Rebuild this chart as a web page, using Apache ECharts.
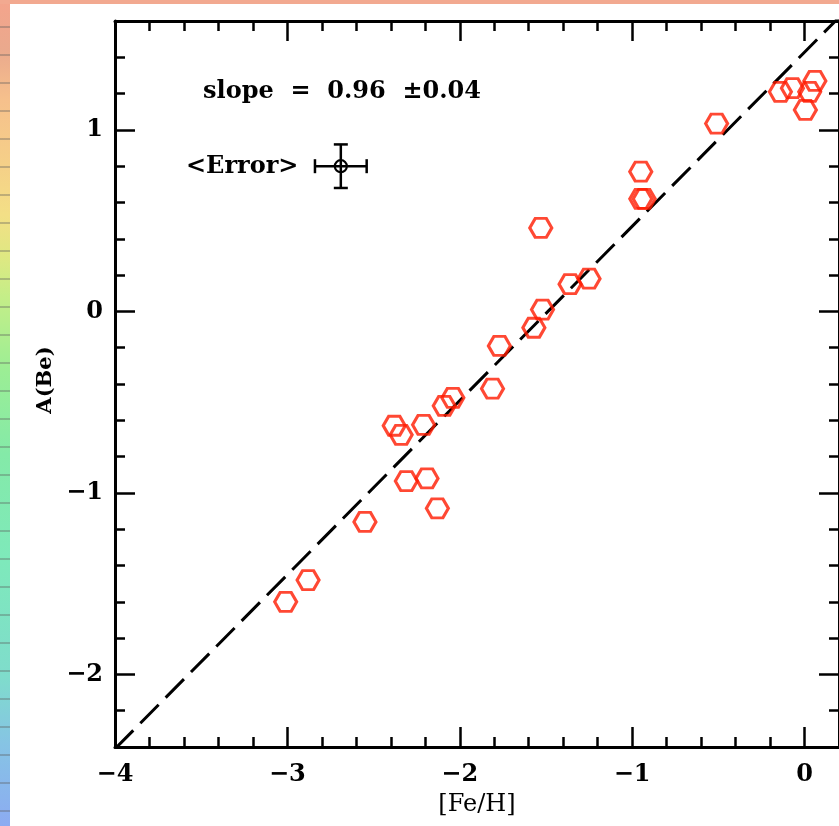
<!DOCTYPE html>
<html><head><meta charset="utf-8">
<script src="https://cdn.jsdelivr.net/npm/echarts@6/dist/echarts.min.js"></script>
<style>
html,body{margin:0;padding:0;width:839px;height:826px;overflow:hidden;background:#f3a78e;}
#strip{position:absolute;left:0;top:0;width:10px;height:826px;background:
 repeating-linear-gradient(to bottom, rgba(0,0,0,0) 0, rgba(0,0,0,0) 26px, rgba(90,90,90,0.35) 26px, rgba(90,90,90,0.35) 28px),
 linear-gradient(to bottom,#f4a48c 0%,#eaa98d 6%,#f6c08c 12%,#f5d088 20%,#f3df86 26%,#dfe882 31%,#c4ee88 36%,#9bee95 45%,#84eaa8 55%,#7ee9bb 68%,#7fdccc 82%,#86c4e4 90%,#8cabf2 100%);}
#top{position:absolute;left:0;top:0;width:839px;height:4px;background:#f2a990;}
#panel{position:absolute;left:10px;top:4px;width:829px;height:822px;background:#fff;}
#chart{position:absolute;left:0;top:0;width:839px;height:826px;}
</style>
</head><body>
<div id="strip"></div><div id="top"></div><div id="panel"></div>
<div id="chart"></div>
<script>
// ---- data ----
const feH = [-3.01, -2.88, -2.55, -2.38, -2.34, -2.31, -2.21, -2.19, -2.13, -2.09, -2.04, -1.81, -1.77, -1.57, -1.53, -1.52, -1.36, -1.25, -0.95, -0.95, -0.93, -0.51, -0.14, -0.07, 0.005, 0.03, 0.06];
const aBe = [-1.60, -1.48, -1.16, -0.63, -0.68, -0.935, -0.625, -0.92, -1.085, -0.52, -0.476, -0.426, -0.19, -0.09, 0.46, 0.01, 0.15, 0.18, 0.77, 0.62, 0.62, 1.035, 1.21, 1.23, 1.11, 1.21, 1.27];
const fitX = [-4.0, 0.2];
const fitY = [-2.41, 1.62];
const errX = [-2.69];
const errY = [0.80];
const errDX = [0.15];
const errDY = [0.12];
const xMajor = [-4, -3, -2, -1, 0];
const yMajor = [-2, -1, 0, 1];
const slopeText = 'slope  =  0.96  \u00b10.04';
const errText = '<Error>';
const xTitle = '[Fe/H]';
const yTitle = 'A(Be)';

function fmt(v){ return v < 0 ? '\u2212' + Math.abs(v) : String(v); }
const FONT = 'DejaVu Serif';
const lab = {fontFamily: FONT, fontWeight: 'bold', fontSize: 24, color: '#000'};
const tickStyle = {color: '#000', width: 2.5};

function majorAxis(pos, isX, withLabels, showLine){
  const vals = isX ? xMajor : yMajor;
  return {
    type: 'value', position: pos,
    min: isX ? -4 : -2.4, max: isX ? 0.2 : 1.6,
    axisLine: {show: showLine, onZero: false, lineStyle: {color: '#000', width: 3}},
    axisTick: {show: true, inside: true, length: 20, customValues: vals, lineStyle: tickStyle},
    axisLabel: withLabels ? Object.assign({show: true, customValues: vals, formatter: fmt, margin: isX ? 16 : 12}, lab) : {show: false},
    splitLine: {show: false}
  };
}
function minorAxis(pos, isX){
  return {
    type: 'value', position: pos,
    min: isX ? -4 : -2.4, max: isX ? 0.2 : 1.6, interval: 0.2,
    axisLine: {show: false, onZero: false},
    axisTick: {show: true, inside: true, length: 10, lineStyle: tickStyle},
    axisLabel: {show: false},
    splitLine: {show: false}
  };
}

const xAx = [majorAxis('bottom', true, true, true), minorAxis('bottom', true), majorAxis('top', true, false, true), minorAxis('top', true)];
xAx[0].name = xTitle; xAx[0].nameLocation = 'middle'; xAx[0].nameGap = 46;
xAx[0].nameTextStyle = {fontFamily: FONT, fontSize: 24, color: '#000'};
const yAx = [majorAxis('left', false, true, true), minorAxis('left', false), majorAxis('right', false, false, true), minorAxis('right', false)];

const hex = 'path://M-1,0 L-0.5,-0.866 L0.5,-0.866 L1,0 L0.5,0.866 L-0.5,0.866 Z';

const chart = echarts.init(document.getElementById('chart'), null, {renderer: 'canvas'});
chart.setOption({
  animation: false,
  grid: {left: 115, right: -3, top: 21, bottom: 79},
  xAxis: xAx,
  yAxis: yAx,
  graphic: [
    {type: 'text', x: 203, y: 92, style: {text: slopeText, fontFamily: FONT, fontWeight: 'bold', fontSize: 24, fill: '#000', align: 'left', verticalAlign: 'middle'}},
    {type: 'text', x: 186, y: 167, style: {text: errText, fontFamily: FONT, fontWeight: 'bold', fontSize: 24, fill: '#000', align: 'left', verticalAlign: 'middle'}},
    {type: 'text', x: 46, y: 380, rotation: Math.PI / 2, style: {text: yTitle, fontFamily: FONT, fontWeight: 'bold', fontSize: 21, fill: '#000', align: 'center', verticalAlign: 'middle'}}
  ],
  series: [
    {type: 'line', data: fitX.map((x, i) => [x, fitY[i]]), symbol: 'none', z: 2,
     lineStyle: {color: '#000', width: 3, type: [26, 10]}},
    {type: 'scatter', data: feH.map((x, i) => [x, aBe[i]]), symbol: hex, symbolSize: [22, 19], z: 3,
     itemStyle: {color: 'rgba(0,0,0,0)', borderColor: '#ff1a00', borderWidth: 3}},
    {type: 'custom', z: 4, data: errX.map((x, i) => [x, errY[i], errDX[i], errDY[i]]),
     renderItem: function(params, api){
       const x = api.value(0), y = api.value(1), dx = api.value(2), dy = api.value(3);
       const c = api.coord([x, y]);
       const l = api.coord([x - dx, y]), r = api.coord([x + dx, y]);
       const t = api.coord([x, y + dy]), b = api.coord([x, y - dy]);
       const st = {stroke: '#000', lineWidth: 2.5, fill: null};
       const cap = 7;
       return {type: 'group', children: [
         {type: 'line', shape: {x1: l[0], y1: l[1], x2: r[0], y2: r[1]}, style: st},
         {type: 'line', shape: {x1: t[0], y1: t[1], x2: b[0], y2: b[1]}, style: st},
         {type: 'line', shape: {x1: l[0], y1: l[1] - cap, x2: l[0], y2: l[1] + cap}, style: st},
         {type: 'line', shape: {x1: r[0], y1: r[1] - cap, x2: r[0], y2: r[1] + cap}, style: st},
         {type: 'line', shape: {x1: t[0] - cap, y1: t[1], x2: t[0] + cap, y2: t[1]}, style: st},
         {type: 'line', shape: {x1: b[0] - cap, y1: b[1], x2: b[0] + cap, y2: b[1]}, style: st},
         {type: 'circle', shape: {cx: c[0], cy: c[1], r: 6}, style: {stroke: '#000', lineWidth: 2.2, fill: null}}
       ]};
     }}
  ]
});
</script>
</body></html>
